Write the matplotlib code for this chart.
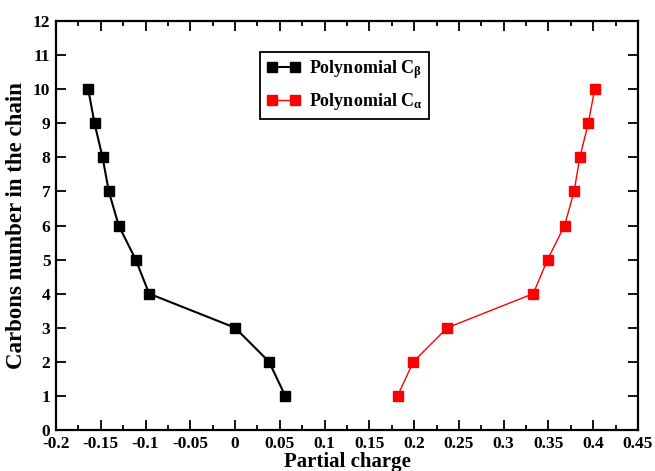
import matplotlib
matplotlib.use("Agg")
import matplotlib.pyplot as plt
from matplotlib.ticker import MultipleLocator, FuncFormatter

plt.rcParams['font.family'] = ['Liberation Serif', 'DejaVu Serif']
plt.rcParams['font.weight'] = 'bold'
plt.rcParams['axes.unicode_minus'] = False
plt.rcParams['mathtext.fontset'] = 'custom'
plt.rcParams['mathtext.rm'] = 'Liberation Serif'
plt.rcParams['mathtext.it'] = 'Liberation Serif:italic'
plt.rcParams['mathtext.bf'] = 'Liberation Serif:bold'

carbons = [1, 2, 3, 4, 5, 6, 7, 8, 9, 10]
charge_beta = [0.056, 0.038, 0.0, -0.096, -0.111, -0.130, -0.141, -0.148, -0.157, -0.164]
charge_alpha = [0.1815, 0.199, 0.237, 0.333, 0.349, 0.368, 0.3786, 0.385, 0.3945, 0.4016]
label_beta = r"Polynomial C$_{\mathrm{\beta}}$"
label_alpha = r"Polynomial C$_{\mathrm{\alpha}}$"

fig = plt.figure(figsize=(6.55, 4.71), dpi=100)
ax = fig.add_axes([56/655, 41/471, 582/655, 409/471])

ax.plot(charge_beta, carbons, color='black', lw=1.5, marker='s', ms=7.5, label=label_beta)
ax.plot(charge_alpha, carbons, color='red', lw=1.0, marker='s', ms=7.5, label=label_alpha)

ax.set_xlim(-0.2, 0.45)
ax.set_ylim(0, 12)
ax.xaxis.set_major_locator(MultipleLocator(0.05))
ax.xaxis.set_minor_locator(MultipleLocator(0.025))
ax.yaxis.set_major_locator(MultipleLocator(1))
ax.xaxis.set_major_formatter(FuncFormatter(lambda v, p: ('%g' % round(v, 3)) if abs(v) > 1e-9 else '0'))

ax.tick_params(which='both', direction='in', top=True, right=True, width=1.3)
ax.tick_params(which='major', length=7, labelsize=12.5)
ax.tick_params(axis='x', which='major', pad=4)
ax.tick_params(axis='y', which='major', pad=4)
ax.tick_params(which='minor', length=3.5)
for lab in ax.get_xticklabels() + ax.get_yticklabels():
    lab.set_fontweight('bold')
for s in ax.spines.values():
    s.set_linewidth(1.6)

ax.set_xlabel('Partial charge', fontsize=15, fontweight='bold', labelpad=0)
ax.set_ylabel('Carbons number in the chain', fontsize=16.5, fontweight='bold', labelpad=4)

leg = ax.legend(loc='upper left', bbox_to_anchor=(0.3505, 0.924), borderaxespad=0,
                fancybox=False, edgecolor='black', framealpha=1,
                prop={'weight': 'bold', 'size': 13}, numpoints=2,
                handlelength=1.9, handletextpad=0.45, borderpad=0.35, labelspacing=0.55)
leg.get_frame().set_linewidth(1.3)

fig.savefig('out.png', dpi=100)
